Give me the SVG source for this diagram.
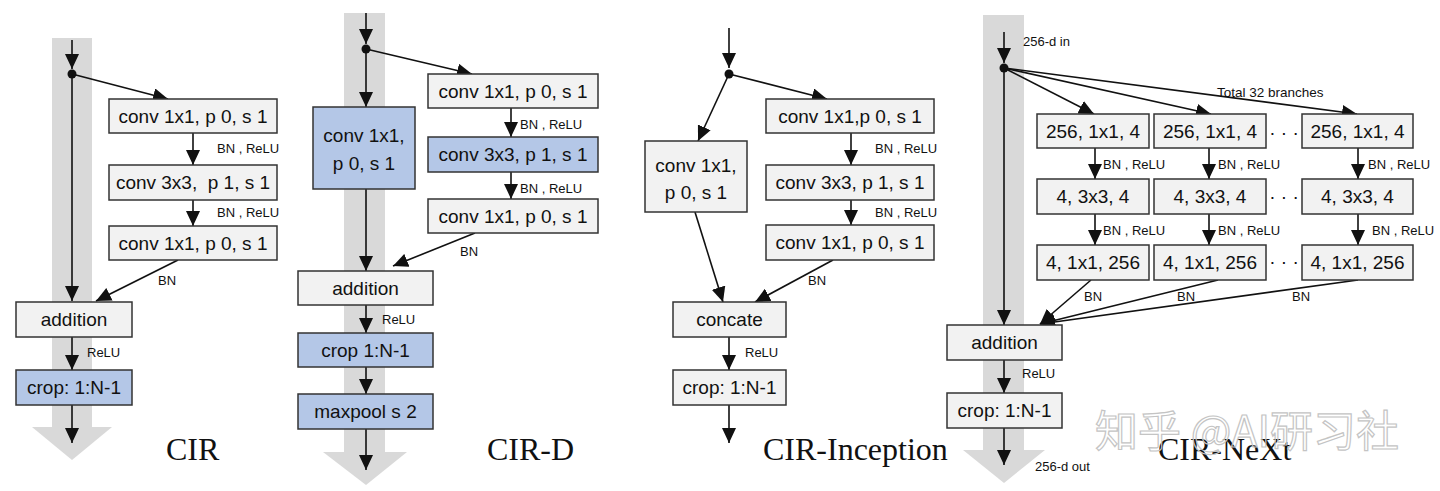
<svg xmlns="http://www.w3.org/2000/svg" width="1440" height="491" viewBox="0 0 1440 491">
<style>
.bg{fill:#fff}
.band{fill:#d9d9d9}
.box{fill:#f2f2f2;stroke:#333;stroke-width:1.5}
.blue{fill:#b4c7e7}
.t{font-family:"Liberation Sans",Arial,sans-serif;font-size:19px;fill:#111;text-anchor:middle;white-space:pre}
.s{font-family:"Liberation Sans",Arial,sans-serif;font-size:13px;fill:#111;white-space:pre}
.title{font-family:"Liberation Serif","Times New Roman",serif;font-size:32px;fill:#111}
.ln{stroke:#111;stroke-width:1.6;fill:none}
.ar{marker-end:url(#ah)}
.dot{fill:#111}
.wm{font-family:"Noto Sans CJK SC","Noto Sans",sans-serif;font-size:43px;fill:none;stroke:#c4c4c4;stroke-width:1.2}
</style>
<defs>
<marker id="ah" markerUnits="userSpaceOnUse" markerWidth="15" markerHeight="14" refX="15" refY="7" orient="auto">
<path d="M0,0 L15,7 L0,14 z" fill="#111"/>
</marker>
</defs>
<rect class="bg" x="0" y="0" width="1440" height="491"/>

<g id="bands">
<rect class="band" x="52" y="38" width="40" height="389"/>
<polygon class="band" points="32,427 112,427 72,460"/>
<rect class="band" x="344" y="13" width="41" height="439"/>
<polygon class="band" points="323,452 407,452 366,485"/>
<rect class="band" x="983" y="15" width="41" height="435"/>
<polygon class="band" points="963,450 1045,450 1004,483"/>
</g>

<g id="connectors">
<!-- CIR -->
<line class="ln ar" x1="72" y1="40" x2="72" y2="69"/>
<circle class="dot" cx="72" cy="74" r="4.5"/>
<line class="ln ar" x1="72" y1="74" x2="72" y2="301"/>
<line class="ln ar" x1="72" y1="74" x2="168" y2="99"/>
<line class="ln ar" x1="193" y1="133" x2="193" y2="165"/>
<line class="ln ar" x1="193" y1="200" x2="193" y2="226"/>
<line class="ln ar" x1="178" y1="260" x2="96" y2="301"/>
<line class="ln ar" x1="72" y1="337" x2="72" y2="370"/>
<line class="ln ar" x1="72" y1="405" x2="72" y2="443"/>
<!-- CIR-D -->
<line class="ln ar" x1="366" y1="13" x2="366" y2="44"/>
<circle class="dot" cx="366" cy="49" r="4.5"/>
<line class="ln ar" x1="366" y1="49" x2="366" y2="107"/>
<line class="ln ar" x1="366" y1="49" x2="472" y2="74"/>
<line class="ln ar" x1="366" y1="189" x2="366" y2="271"/>
<line class="ln ar" x1="511" y1="108" x2="511" y2="137"/>
<line class="ln ar" x1="511" y1="172" x2="511" y2="199"/>
<line class="ln ar" x1="475" y1="233" x2="393" y2="266"/>
<line class="ln ar" x1="366" y1="305" x2="366" y2="333"/>
<line class="ln ar" x1="366" y1="367" x2="366" y2="394"/>
<line class="ln ar" x1="366" y1="429" x2="366" y2="470"/>
<!-- CIR-Inception -->
<line class="ln ar" x1="729" y1="28" x2="729" y2="68"/>
<circle class="dot" cx="729" cy="74" r="4.5"/>
<line class="ln ar" x1="729" y1="74" x2="827" y2="99"/>
<line class="ln ar" x1="729" y1="74" x2="698" y2="141"/>
<line class="ln ar" x1="851" y1="133" x2="851" y2="165"/>
<line class="ln ar" x1="851" y1="200" x2="851" y2="225"/>
<line class="ln ar" x1="695" y1="212" x2="723" y2="302"/>
<line class="ln ar" x1="833" y1="260" x2="755" y2="302"/>
<line class="ln ar" x1="729" y1="337" x2="729" y2="370"/>
<line class="ln ar" x1="729" y1="405" x2="729" y2="443"/>
<!-- CIR-NeXt -->
<line class="ln ar" x1="1004" y1="32" x2="1004" y2="63"/>
<circle class="dot" cx="1004" cy="68" r="4.5"/>
<line class="ln ar" x1="1004" y1="68" x2="1004" y2="325"/>
<line class="ln ar" x1="1004" y1="68" x2="1094" y2="114"/>
<line class="ln ar" x1="1004" y1="68" x2="1211" y2="114"/>
<line class="ln ar" x1="1004" y1="68" x2="1357" y2="114"/>
<line class="ln ar" x1="1095" y1="148" x2="1095" y2="179"/>
<line class="ln ar" x1="1209" y1="148" x2="1209" y2="179"/>
<line class="ln ar" x1="1358" y1="148" x2="1358" y2="179"/>
<line class="ln ar" x1="1095" y1="214" x2="1095" y2="245"/>
<line class="ln ar" x1="1209" y1="214" x2="1209" y2="245"/>
<line class="ln ar" x1="1358" y1="214" x2="1358" y2="245"/>
<line class="ln ar" x1="1091" y1="280" x2="1040" y2="324"/>
<line class="ln ar" x1="1218" y1="280" x2="1040" y2="324"/>
<line class="ln ar" x1="1358" y1="280" x2="1040" y2="324"/>
<line class="ln ar" x1="1004" y1="360" x2="1004" y2="393"/>
<line class="ln ar" x1="1004" y1="428" x2="1004" y2="465"/>
</g>

<g id="edge-labels">
<text class="s" x="217" y="153">BN , ReLU</text>
<text class="s" x="217" y="217">BN , ReLU</text>
<text class="s" x="158" y="285">BN</text>
<text class="s" x="87" y="357">ReLU</text>
<text class="s" x="520" y="128.5">BN , ReLU</text>
<text class="s" x="520" y="192.5">BN , ReLU</text>
<text class="s" x="460" y="256">BN</text>
<text class="s" x="382" y="324">ReLU</text>
<text class="s" x="875" y="153">BN , ReLU</text>
<text class="s" x="875" y="217">BN , ReLU</text>
<text class="s" x="808" y="285">BN</text>
<text class="s" x="745" y="357">ReLU</text>
<text class="s" x="1023" y="46">256-d in</text>
<text class="s" x="1217" y="97" style="font-size:13.5px">Total 32 branches</text>
<text class="s" x="1103" y="169">BN , ReLU</text>
<text class="s" x="1218" y="169">BN , ReLU</text>
<text class="s" x="1368" y="169">BN , ReLU</text>
<text class="s" x="1103" y="234.5">BN , ReLU</text>
<text class="s" x="1218" y="234.5">BN , ReLU</text>
<text class="s" x="1372" y="234.5">BN , ReLU</text>
<text class="s" x="1084" y="300.5">BN</text>
<text class="s" x="1177" y="300.5">BN</text>
<text class="s" x="1292" y="300.5">BN</text>
<text class="s" x="1022" y="377.5">ReLU</text>
<text class="s" x="1035" y="471">256-d out</text>
</g>

<!-- CIR nodes -->
<g id="cir-conv1"><rect class="box" x="109" y="99" width="168" height="34"/><text class="t" x="193" y="122.5">conv 1x1, p 0, s 1</text></g>
<g id="cir-conv2"><rect class="box" x="109" y="165" width="168" height="35"/><text class="t" x="193" y="189">conv 3x3,  p 1, s 1</text></g>
<g id="cir-conv3"><rect class="box" x="109" y="226" width="168" height="34"/><text class="t" x="193" y="249.5">conv 1x1, p 0, s 1</text></g>
<g id="cir-add"><rect class="box" x="16" y="302" width="116" height="35"/><text class="t" x="74" y="326">addition</text></g>
<g id="cir-crop"><rect class="box blue" x="16" y="370" width="116" height="35"/><text class="t" x="74" y="394">crop: 1:N-1</text></g>
<g id="cir-title"><text class="title" x="166" y="460">CIR</text></g>

<!-- CIR-D nodes -->
<g id="cird-short"><rect class="box blue" x="313" y="107" width="102" height="82"/><text class="t" x="364" y="141.5">conv 1x1,</text><text class="t" x="364" y="169.5">p 0, s 1</text></g>
<g id="cird-conv1"><rect class="box" x="428" y="74" width="170" height="34"/><text class="t" x="513" y="97.5">conv 1x1, p 0, s 1</text></g>
<g id="cird-conv2"><rect class="box blue" x="428" y="137" width="170" height="35"/><text class="t" x="513" y="161">conv 3x3, p 1, s 1</text></g>
<g id="cird-conv3"><rect class="box" x="428" y="199" width="170" height="34"/><text class="t" x="513" y="222.5">conv 1x1, p 0, s 1</text></g>
<g id="cird-add"><rect class="box" x="298" y="271" width="135" height="34"/><text class="t" x="365.5" y="294.5">addition</text></g>
<g id="cird-crop"><rect class="box blue" x="298" y="333" width="135" height="34"/><text class="t" x="365.5" y="356.5">crop 1:N-1</text></g>
<g id="cird-pool"><rect class="box blue" x="298" y="394" width="135" height="35"/><text class="t" x="365.5" y="418">maxpool s 2</text></g>
<g id="cird-title"><text class="title" x="487" y="460">CIR-D</text></g>

<!-- CIR-Inception nodes -->
<g id="inc-left"><rect class="box" x="645" y="141" width="102" height="71"/><text class="t" x="696" y="171.5">conv 1x1,</text><text class="t" x="696" y="198.5">p 0, s 1</text></g>
<g id="inc-conv1"><rect class="box" x="766" y="99" width="168" height="34"/><text class="t" x="850" y="122.5">conv 1x1,p 0, s 1</text></g>
<g id="inc-conv2"><rect class="box" x="766" y="165" width="168" height="35"/><text class="t" x="850" y="189">conv 3x3, p 1, s 1</text></g>
<g id="inc-conv3"><rect class="box" x="766" y="225" width="168" height="35"/><text class="t" x="850" y="249">conv 1x1, p 0, s 1</text></g>
<g id="inc-concat"><rect class="box" x="673" y="302" width="113" height="35"/><text class="t" x="729.5" y="326">concate</text></g>
<g id="inc-crop"><rect class="box" x="673" y="370" width="113" height="35"/><text class="t" x="729.5" y="394">crop: 1:N-1</text></g>
<g id="inc-title"><text class="title" x="763" y="460">CIR-Inception</text></g>

<!-- CIR-NeXt nodes -->
<g id="nx-a1"><rect class="box" x="1037" y="114" width="112" height="34"/><text class="t" x="1093" y="137.5">256, 1x1, 4</text></g>
<g id="nx-b1"><rect class="box" x="1154" y="114" width="112" height="34"/><text class="t" x="1210" y="137.5">256, 1x1, 4</text></g>
<g id="nx-c1"><rect class="box" x="1302" y="114" width="111" height="34"/><text class="t" x="1357.5" y="137.5">256, 1x1, 4</text></g>
<g id="nx-a2"><rect class="box" x="1037" y="179" width="112" height="35"/><text class="t" x="1093" y="203">4, 3x3, 4</text></g>
<g id="nx-b2"><rect class="box" x="1154" y="179" width="112" height="35"/><text class="t" x="1210" y="203">4, 3x3, 4</text></g>
<g id="nx-c2"><rect class="box" x="1302" y="179" width="111" height="35"/><text class="t" x="1357.5" y="203">4, 3x3, 4</text></g>
<g id="nx-a3"><rect class="box" x="1037" y="245" width="112" height="35"/><text class="t" x="1093" y="269">4, 1x1, 256</text></g>
<g id="nx-b3"><rect class="box" x="1154" y="245" width="112" height="35"/><text class="t" x="1210" y="269">4, 1x1, 256</text></g>
<g id="nx-c3"><rect class="box" x="1302" y="245" width="111" height="35"/><text class="t" x="1357.5" y="269">4, 1x1, 256</text></g>
<g id="nx-dots"><text class="t" x="1284" y="139">· · ·</text><text class="t" x="1284" y="203">· · ·</text><text class="t" x="1284" y="268">· · ·</text></g>
<g id="nx-add"><rect class="box" x="947" y="325" width="115" height="35"/><text class="t" x="1004.5" y="349">addition</text></g>
<g id="nx-crop"><rect class="box" x="947" y="393" width="115" height="35"/><text class="t" x="1004.5" y="417">crop: 1:N-1</text></g>
<g id="nx-title"><text class="title" x="1158" y="460">CIR-NeXt</text></g>

<g id="watermark"><text class="wm" x="1095" y="447">知乎 @AI研习社</text></g>
</svg>
